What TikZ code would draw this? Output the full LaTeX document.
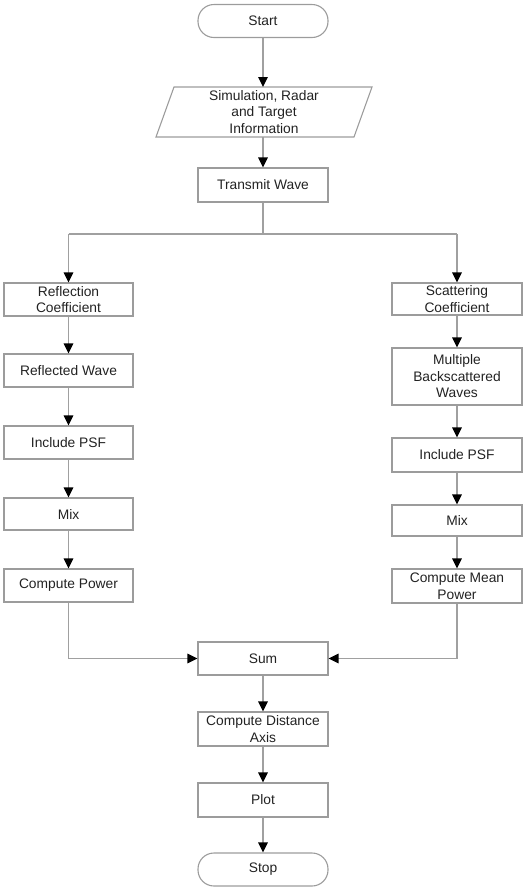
\documentclass[tikz,border=0pt]{standalone}
\usepackage{fontspec}
\setmainfont{Liberation Sans}
\usetikzlibrary{arrows.meta}
\definecolor{boxline}{HTML}{9C9C9C}
\definecolor{conn}{HTML}{A0A0A0}
\definecolor{txt}{HTML}{222222}
\begin{document}
\begin{tikzpicture}[x=1pt,y=-1pt,
  every node/.style={font=\fontsize{13.8}{16.5}\selectfont, text=txt, align=center, inner sep=1pt},
  box/.style={draw=boxline, line width=1.1pt, rectangle, minimum width=130pt, minimum height=33pt},
  term/.style={box, rounded corners=16pt},
  plain/.style={minimum width=180pt, minimum height=50pt},
  conn/.style={draw=conn, line width=1.3pt, -{Triangle[length=10pt,width=9.5pt,color=black]}},
  seg/.style={draw=conn, line width=1.3pt}]
\useasboundingbox (0,0) rectangle (529,892);

\node[term] (start) at (263,21) {Start};
\node[plain] (info) at (264,112) {Simulation, Radar\\and Target\\Information};
\draw[boxline, line width=1.1pt] (174,87) -- (372,87) -- (354,137) -- (156,137) -- cycle;
\node[box, minimum height=34pt] (tx) at (263,185) {Transmit Wave};

\coordinate (jn) at (263,234);
\coordinate (jl) at (68.5,234);
\coordinate (jr) at (457,234);

\node[box, minimum width=129pt] (refl) at (68.5,299.5) {Reflection\\Coefficient};
\node[box, minimum width=129pt] (rwave) at (68.5,370.5) {Reflected Wave};
\node[box, minimum width=129pt] (psfl) at (68.5,442.5) {Include PSF};
\node[box, minimum width=129pt, minimum height=32pt] (mixl) at (68.5,514) {Mix};
\node[box, minimum width=129pt] (powl) at (68.5,585.5) {Compute Power};

\node[box, minimum height=32pt] (scat) at (457,299) {Scattering\\Coefficient};
\node[box, minimum height=57pt] (multi) at (457,376.5) {Multiple\\Backscattered\\Waves};
\node[box, minimum height=34pt] (psfr) at (457,455) {Include PSF};
\node[box, minimum height=31pt] (mixr) at (457,520.5) {Mix};
\node[box, minimum height=34pt] (mpow) at (457,586) {Compute Mean\\Power};

\node[box] (sum) at (263,658.5) {Sum};
\node[box, minimum height=34pt] (dist) at (263,729) {Compute Distance\\Axis};
\node[box, minimum height=34pt] (plot) at (263,800) {Plot};
\node[term] (stop) at (263,869.5) {Stop};

\draw[conn] (start) -- (start |- 0,87);
\draw[conn] (info.south -| tx) -- (tx);
\draw[seg] (tx) -- (jn);
\draw[seg] (jl) -- (jr);
\draw[conn] (jl) -- (refl);
\draw[conn] (jr) -- (scat);
\draw[conn] (refl) -- (rwave);
\draw[conn] (rwave) -- (psfl);
\draw[conn] (psfl) -- (mixl);
\draw[conn] (mixl) -- (powl);
\draw[conn] (scat) -- (multi);
\draw[conn] (multi) -- (psfr);
\draw[conn] (psfr) -- (mixr);
\draw[conn] (mixr) -- (mpow);
\draw[conn] (powl) |- (sum.west);
\draw[conn] (mpow) |- (sum.east);
\draw[conn] (sum) -- (dist);
\draw[conn] (dist) -- (plot);
\draw[conn] (plot) -- (stop);
\end{tikzpicture}
\end{document}
